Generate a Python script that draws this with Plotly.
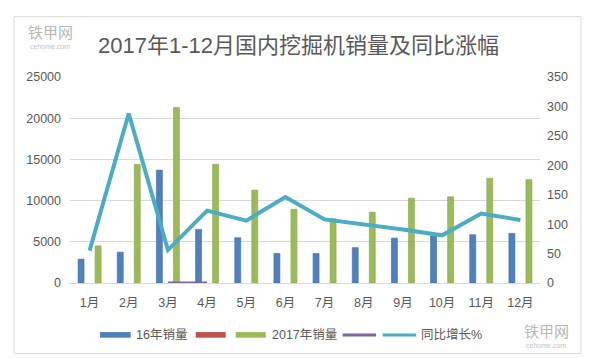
import plotly.graph_objects as go

months = ["1月", "2月", "3月", "4月", "5月", "6月", "7月", "8月", "9月", "10月", "11月", "12月"]
sales_2016 = [2890, 3740, 13700, 6510, 5490, 3580, 3580, 4290, 5450, 5740, 5860, 6020]
sales_2017 = [4510, 14390, 21300, 14390, 11270, 8950, 7800, 8600, 10290, 10460, 12710, 12550]
growth_pct = [55, 288, 56, 123, 106, 146, 108, 100, 91, 81, 118, 107]
purple_vals = [None, None, 0, 0, None, None, None, None, None, None, None, None]

left_ticks = [0, 5000, 10000, 15000, 20000, 25000]
right_ticks = [0, 50, 100, 150, 200, 250, 300, 350]

title_text = "2017年1-12月国内挖掘机销量及同比涨幅"
legend_names = ["16年销量", "2017年销量", "同比增长%"]

BLUE = "#4F81BD"
RED = "#C0504D"
GREEN = "#9BBB59"
PURPLE = "#8064A2"
CYAN = "#4BACC6"
GRAY = "#595959"
GRID = "#D9D9D9"

# page body has an 8px margin: lay the figure out in page pixels shifted by it
OX, OY = 8, 8
W, H = 594 - OX, 358 - OY
L, R, T, B = 70 - OX, 540 - OX, 77 - OY, 282.7 - OY
FONT = "Liberation Sans, Noto Sans CJK SC, sans-serif"


def px(x):
    return (x - OX - L) / (R - L)


def py(y):
    return (B - (y - OY)) / (B - T)


fig = go.Figure()
fig.add_trace(go.Bar(x=months, y=sales_2016, name=legend_names[0], width=0.153, offset=-0.294,
                     marker=dict(color=BLUE, line=dict(color="#3E6DA8", width=0.6)), yaxis="y"))
fig.add_trace(go.Bar(x=months, y=sales_2017, name=legend_names[1], width=0.153, offset=0.141,
                     marker=dict(color=GREEN, line=dict(color="#88A84A", width=0.6)), yaxis="y"))
fig.add_trace(go.Scatter(x=months, y=purple_vals, mode="lines", line=dict(color=PURPLE, width=3),
                         yaxis="y2", connectgaps=False))
fig.add_trace(go.Scatter(x=months, y=growth_pct, mode="lines", name=legend_names[2],
                         line=dict(color=CYAN, width=4), yaxis="y2"))

shapes = []
annotations = []
# outer border
shapes.append(dict(type="rect", xref="paper", yref="paper", x0=px(14), x1=px(581), y0=py(16.7), y1=py(353),
                   line=dict(color=GRID, width=1), fillcolor="rgba(0,0,0,0)", layer="below"))
# custom legend
ly0, ly1, lyc = 331.7, 337.3, 334.5
for x0, x1, col in [(100, 130.7, BLUE), (195.7, 225.7, RED), (235.7, 265.7, GREEN)]:
    shapes.append(dict(type="rect", xref="paper", yref="paper", x0=px(x0), x1=px(x1), y0=py(ly1), y1=py(ly0),
                       line=dict(width=0), fillcolor=col))
for x0, x1, col in [(342.7, 376, PURPLE), (382.7, 416, CYAN)]:
    shapes.append(dict(type="line", xref="paper", yref="paper", x0=px(x0), x1=px(x1), y0=py(lyc), y1=py(lyc),
                       line=dict(color=col, width=3)))
for xl, txt in [(134, legend_names[0]), (270, legend_names[1]), (419, legend_names[2])]:
    annotations.append(dict(text=txt, xref="paper", yref="paper", x=px(xl), y=py(lyc), xanchor="left",
                            yanchor="middle", showarrow=False, font=dict(size=12.5, color=GRAY, family=FONT)))
# watermarks
for cx, cy1, cy2 in [(50, 32, 46.5), (546, 330.5, 345)]:
    annotations.append(dict(text="铁甲网", xref="paper", yref="paper", x=px(cx), y=py(cy1), xanchor="center",
                            yanchor="middle", showarrow=False,
                            font=dict(size=15, color="#B8B8B8", family="Noto Sans CJK SC")))
    annotations.append(dict(text="cehome.com", xref="paper", yref="paper", x=px(cx), y=py(cy2),
                            xanchor="center", yanchor="middle", showarrow=False,
                            font=dict(size=7, color="#C4C4C4", family=FONT)))

fig.update_layout(
    width=W, height=H, autosize=False,
    margin=dict(l=L, r=W - R, t=T, b=H - B, pad=0),
    paper_bgcolor="white", plot_bgcolor="white",
    showlegend=False,
    barmode="overlay",
    title=dict(text=title_text, x=(298.5 - OX) / W, xanchor="center", y=1 - (45 - OY) / H, yanchor="middle",
               font=dict(size=22, color=GRAY, family=FONT)),
    font=dict(family=FONT, color=GRAY, size=12),
    xaxis=dict(type="category", showgrid=False, showline=True, linecolor=GRID, linewidth=1,
               ticks="", tickfont=dict(size=12.5, color=GRAY), ticklabelstandoff=8, zeroline=False),
    yaxis=dict(range=[0, 25000], tickvals=left_ticks, tickformat="d", showgrid=True, gridcolor=GRID,
               gridwidth=1, zeroline=False, showline=False, ticks="", tickfont=dict(size=12.5, color=GRAY),
               ticklabelstandoff=8),
    yaxis2=dict(range=[0, 350], tickvals=right_ticks, tickformat="d", overlaying="y", side="right",
                showgrid=False, zeroline=False, showline=False, ticks="", tickfont=dict(size=12.5, color=GRAY),
                ticklabelstandoff=6),
    shapes=shapes, annotations=annotations,
)

fig.write_html("out.html")
